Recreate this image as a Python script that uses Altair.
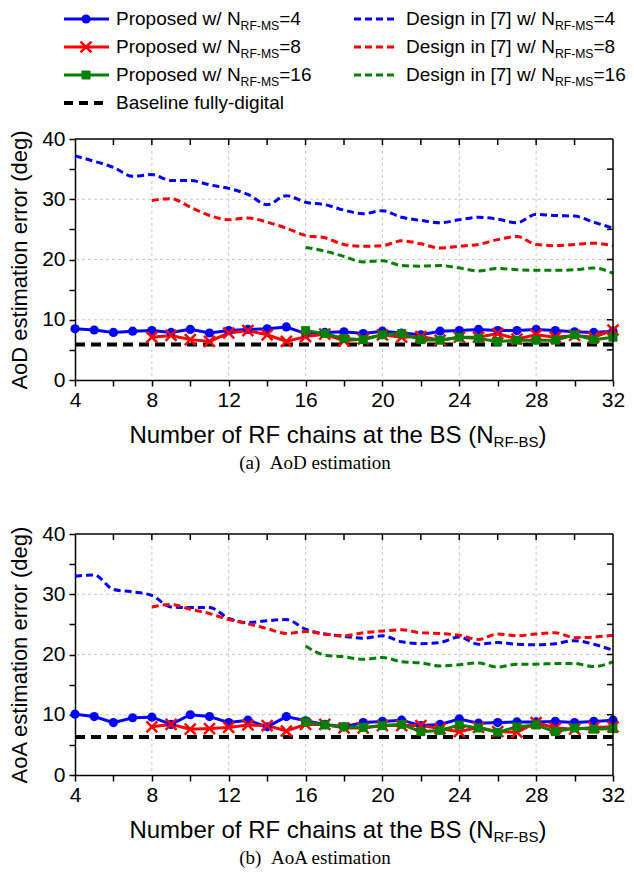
import altair as alt
import pandas as pd

FONT = "Liberation Sans"
SERIF = "Liberation Serif"
W, H = 538, 241

# ---------------- data ----------------
x_all = list(range(4, 33))
x_from8 = list(range(8, 33))
x_from16 = list(range(16, 33))

# (a) AoD estimation error (deg)
aod_prop4 = [8.5, 8.3, 7.9, 8.1, 8.2, 7.9, 8.4, 7.8, 8.2, 8.4, 8.5, 8.8, 7.7, 7.9, 8.0,
             7.7, 8.1, 7.8, 7.5, 8.1, 8.2, 8.4, 8.2, 8.2, 8.4, 8.2, 8.0, 7.9, 8.1]
aod_prop8 = [7.1, 7.4, 6.7, 6.4, 7.8, 8.2, 7.5, 6.4, 7.2, 7.6, 6.5, 6.8, 7.5, 7.1, 7.2,
             6.6, 7.1, 7.1, 7.7, 6.8, 7.5, 7.1, 7.4, 7.1, 8.3]
aod_prop16 = [8.2, 7.7, 6.9, 6.7, 7.5, 7.7, 6.7, 6.6, 7.1, 6.9, 6.4, 6.6, 6.6, 6.6, 7.5, 6.7, 7.1]
aod_des4 = [37.2, 36.3, 35.3, 33.8, 34.1, 33.1, 33.1, 32.4, 31.8, 30.8, 29.1, 30.6, 29.5, 29.1, 28.2,
            27.6, 28.1, 27.0, 26.5, 26.1, 26.6, 27.0, 26.7, 26.1, 27.5, 27.3, 27.2, 26.2, 25.2]
aod_des8 = [29.8, 30.1, 28.7, 27.3, 26.6, 26.9, 26.2, 25.2, 24.0, 23.6, 22.5, 22.2, 22.3, 23.1, 22.6,
            21.9, 22.2, 22.5, 23.3, 23.8, 22.5, 22.3, 22.5, 22.7, 22.3]
aod_des16 = [22.0, 21.4, 20.5, 19.6, 19.8, 19.0, 18.9, 19.0, 18.6, 18.1, 18.5, 18.3, 18.2, 18.2, 18.3, 18.6, 17.7]
aod_baseline = 5.9

# (b) AoA estimation error (deg)
aoa_prop4 = [10.1, 9.7, 8.7, 9.5, 9.6, 8.4, 10.0, 9.7, 8.7, 9.1, 8.0, 9.7, 9.0, 8.4, 8.0,
             8.7, 8.9, 9.1, 8.2, 8.4, 9.3, 8.6, 8.7, 8.8, 8.8, 8.9, 8.7, 8.9, 9.1]
aoa_prop8 = [8.0, 8.4, 7.6, 7.7, 7.9, 8.3, 8.2, 7.3, 8.4, 8.4, 7.8,
             7.8, 8.2, 8.2, 8.2, 7.7, 7.2, 7.9, 7.2, 7.1, 8.7, 7.8, 7.6, 7.9, 8.0]
aoa_prop16 = [8.8, 8.3, 8.0, 7.9, 8.2, 8.4, 7.2, 7.4, 8.3, 7.8, 7.1, 8.0, 8.3, 7.2, 7.8, 7.6, 7.7]
aoa_des4 = [33.0, 33.2, 30.8, 30.4, 29.8, 27.9, 27.8, 27.8, 26.0, 25.3, 25.6, 25.8, 24.2, 23.4, 23.0,
            22.7, 23.1, 22.1, 21.8, 22.0, 22.9, 21.7, 22.0, 21.7, 21.6, 21.8, 22.3, 21.7, 20.7]
aoa_des8 = [27.9, 28.3, 27.5, 26.8, 25.8, 25.1, 24.3, 23.5, 23.8, 23.4, 23.1,
            23.6, 23.9, 24.1, 23.6, 23.5, 23.2, 22.5, 23.4, 23.1, 23.4, 23.6, 22.8, 22.9, 23.2]
aoa_des16 = [21.4, 19.9, 19.6, 19.2, 19.5, 18.8, 18.6, 18.1, 18.3, 18.6, 17.9, 18.4, 18.4, 18.5, 18.5, 18.0, 18.8]
aoa_baseline = 6.3

series = ["N4", "N8", "N16"]
colors = ["#0000FF", "#FF0000", "#008000"]

x_grid = [8, 12, 16, 20, 24, 28]
y_grid = [10, 20, 30]
x_minor = list(range(6, 31, 2))
y_minor = list(range(5, 40, 5))

# legend
leg_col = [0, 0, 0, 0, 1, 1, 1]
leg_row = [0, 1, 2, 3, 0, 1, 2]
leg_kind = ["N4", "N8", "N16", "base", "des", "des", "des"]
leg_main = ["Proposed w/ N", "Proposed w/ N", "Proposed w/ N", "Baseline fully-digital",
            "Design in [7] w/ N", "Design in [7] w/ N", "Design in [7] w/ N"]
leg_sub = ["RF-MS", "RF-MS", "RF-MS", "", "RF-MS", "RF-MS", "RF-MS"]
leg_suffix = ["=4", "=8", "=16", "", "=4", "=8", "=16"]
leg_color = ["#0000FF", "#FF0000", "#008000", "#000000", "#0000FF", "#FF0000", "#008000"]

# ---------------- helpers ----------------
AW = {' ': 278, '(': 333, ')': 333, '-': 333, '/': 278, '=': 584, '[': 278, ']': 278,
      'A': 667, 'B': 667, 'D': 722, 'F': 611, 'M': 833, 'N': 722, 'P': 667, 'R': 722, 'S': 667,
      'a': 556, 'b': 556, 'c': 500, 'd': 556, 'e': 556, 'f': 278, 'g': 556, 'h': 556, 'i': 222,
      'l': 222, 'm': 833, 'n': 556, 'o': 556, 'p': 556, 'r': 333, 's': 500, 't': 278, 'u': 556,
      'w': 722, 'y': 500}


def tw(s, fs):
    return sum(AW.get(c, 556) for c in s) * fs / 1000.0


def long_df(xs_list, ys_list):
    rows = []
    for name, xs, ys in zip(series, xs_list, ys_list):
        for xv, yv in zip(xs, ys):
            rows.append({"x": xv, "v": yv, "s": name})
    return pd.DataFrame(rows)


X_ENC = alt.X("x:Q", scale=alt.Scale(domain=[4, 32], nice=False, zero=False),
              axis=alt.Axis(values=list(range(4, 33, 2)),
                            labelExpr="datum.value % 4 == 0 ? datum.label : ''",
                            title=None, grid=False, tickSize=6, tickWidth=1.5, tickColor="black",
                            domainColor="black", domainWidth=1.5, labelFontSize=21, labelFont=FONT,
                            labelColor="black", labelPadding=3, labelFlush=False))
COLOR = alt.Color("s:N", scale=alt.Scale(domain=series, range=colors), legend=None)


def text_layer(t, x, y, fs, align="left", font=FONT, dy=0):
    return alt.Chart(pd.DataFrame({"t": [t]})).mark_text(
        align=align, baseline="middle", font=font, fontSize=fs, color="black", dy=dy
    ).encode(x=alt.value(x), y=alt.value(y), text="t:N")


def panel(prop, des, base, ytitle, caption):
    Y_ENC = alt.Y("v:Q", scale=alt.Scale(domain=[0, 40], nice=False, zero=True),
                  axis=alt.Axis(values=list(range(0, 41, 5)),
                                labelExpr="datum.value % 10 == 0 ? datum.label : ''",
                                title=ytitle, titleFontSize=22, titleFont=FONT,
                                titleFontWeight="normal", titleColor="black", titlePadding=10,
                                grid=False, tickSize=6, tickWidth=1.5, tickColor="black",
                                domainColor="black", domainWidth=1.5, labelFontSize=21,
                                labelFont=FONT, labelColor="black", labelPadding=4,
                                labelFlush=False))
    pdf = long_df([x_all, x_from8, x_from16], prop)
    ddf = long_df([x_all, x_from8, x_from16], des)

    gx = alt.Chart(pd.DataFrame({"x": x_grid})).mark_rule(
        color="#c8c8c8", strokeDash=[3, 3], strokeWidth=1).encode(x=X_ENC)
    gy = alt.Chart(pd.DataFrame({"v": y_grid})).mark_rule(
        color="#c8c8c8", strokeDash=[3, 3], strokeWidth=1).encode(y=Y_ENC)

    dlines = alt.Chart(ddf).mark_line(strokeWidth=3, strokeDash=[7, 4], interpolate="monotone").encode(
        x=X_ENC, y=Y_ENC, color=COLOR, detail="s:N")
    bline = alt.Chart(pd.DataFrame({"v": [base]})).mark_rule(
        color="black", strokeWidth=4, strokeDash=[10, 6]).encode(y=Y_ENC)
    plines = alt.Chart(pdf).mark_line(strokeWidth=3).encode(
        x=X_ENC, y=Y_ENC, color=COLOR, detail="s:N")
    circ = alt.Chart(pdf).transform_filter("datum.s == 'N4'").mark_point(
        shape="circle", filled=True, size=85, opacity=1, color="#0000FF").encode(x=X_ENC, y=Y_ENC)
    crs = alt.Chart(pdf).transform_filter("datum.s == 'N8'").mark_point(
        shape="M-1,-1L1,1M-1,1L1,-1", filled=False, size=120, strokeWidth=2.5, opacity=1,
        color="#FF0000").encode(x=X_ENC, y=Y_ENC)
    sq = alt.Chart(pdf).transform_filter("datum.s == 'N16'").mark_point(
        shape="square", filled=True, size=80, opacity=1, color="#008000").encode(x=X_ENC, y=Y_ENC)

    top_ticks = alt.Chart(pd.DataFrame({"x": x_minor})).mark_rule(
        color="black", strokeWidth=1.5).encode(x=X_ENC, y=alt.value(0), y2=alt.value(6))
    right_ticks = alt.Chart(pd.DataFrame({"v": y_minor})).mark_rule(
        color="black", strokeWidth=1.5).encode(y=Y_ENC, x=alt.value(W - 6), x2=alt.value(W))
    top_edge = alt.Chart(pd.DataFrame({"t": [0]})).mark_rule(color="black", strokeWidth=1.5).encode(
        x=alt.value(0), x2=alt.value(W), y=alt.value(0))
    right_edge = alt.Chart(pd.DataFrame({"t": [0]})).mark_rule(color="black", strokeWidth=1.5).encode(
        x=alt.value(W), y=alt.value(0), y2=alt.value(H))

    # x-axis title with subscript
    m, sbs, cl = "Number of RF chains at the BS (N", "RF-BS", ")"
    fs_t, fs_s = 24, 15
    total = tw(m, fs_t) + tw(sbs, fs_s) + tw(cl, fs_t)
    x0 = W / 2 - total / 2 - 6
    ty = 297
    t1 = text_layer(m, x0, ty, fs_t)
    t2 = text_layer(sbs, x0 + tw(m, fs_t), ty, fs_s, dy=6)
    t3 = text_layer(cl, x0 + tw(m, fs_t) + tw(sbs, fs_s), ty, fs_t)
    cap = text_layer(caption, 240, 324, 19, align="center", font=SERIF)

    return alt.layer(gx, gy, dlines, bline, plines, circ, crs, sq, top_ticks, right_ticks,
                     top_edge, right_edge, t1, t2, t3, cap)


# ---------------- legend (drawn above the top panel) ----------------
ldf = pd.DataFrame({"col": leg_col, "row": leg_row, "kind": leg_kind, "main": leg_main,
                    "sub": leg_sub, "suffix": leg_suffix, "c": leg_color})
LX = alt.X("col:Q", scale=alt.Scale(domain=[0, 1], range=[-11, 279]), axis=None)
LY = alt.Y("row:Q", scale=alt.Scale(domain=[0, 3], range=[-120, -36]), axis=None)
LC = alt.Color("c:N", scale=None)
lbase = alt.Chart(ldf)
FS_L, FS_LS = 19, 12.2

l_solid = lbase.transform_filter("datum.col == 0 && datum.kind != 'base'").mark_rule(
    strokeWidth=3, x2Offset=45).encode(x=LX, x2=alt.X2("col:Q"), y=LY, color=LC)
l_des = lbase.transform_filter("datum.kind == 'des'").mark_rule(
    strokeWidth=3, strokeDash=[7, 4], x2Offset=43).encode(x=LX, x2=alt.X2("col:Q"), y=LY, color=LC)
l_base = lbase.transform_filter("datum.kind == 'base'").mark_rule(
    strokeWidth=4, strokeDash=[9, 6], x2Offset=40).encode(x=LX, x2=alt.X2("col:Q"), y=LY, color=LC)
l_circ = lbase.transform_filter("datum.kind == 'N4'").mark_point(
    shape="circle", filled=True, size=85, opacity=1, xOffset=22, color="#0000FF").encode(x=LX, y=LY)
l_crs = lbase.transform_filter("datum.kind == 'N8'").mark_point(
    shape="M-1,-1L1,1M-1,1L1,-1", filled=False, size=120, strokeWidth=2.5, opacity=1, xOffset=22,
    color="#FF0000").encode(x=LX, y=LY)
l_sq = lbase.transform_filter("datum.kind == 'N16'").mark_point(
    shape="square", filled=True, size=80, opacity=1, xOffset=22, color="#008000").encode(x=LX, y=LY)
l_main = lbase.mark_text(align="left", baseline="middle", font=FONT, fontSize=FS_L, dx=52,
                         color="black").encode(x=LX, y=LY, text="main:N")
sub_layers = []
for c in [0, 1]:
    mtxt = leg_main[0] if c == 0 else leg_main[4]
    dx_sub = 52 + tw(mtxt, FS_L)
    dx_suf = dx_sub + tw("RF-MS", FS_LS)
    sub_layers.append(lbase.transform_filter(f"datum.col == {c} && datum.kind != 'base'").mark_text(
        align="left", baseline="middle", font=FONT, fontSize=FS_LS, dx=dx_sub, dy=7,
        color="black").encode(x=LX, y=LY, text="sub:N"))
    sub_layers.append(lbase.transform_filter(f"datum.col == {c} && datum.kind != 'base'").mark_text(
        align="left", baseline="middle", font=FONT, fontSize=FS_L, dx=dx_suf,
        color="black").encode(x=LX, y=LY, text="suffix:N"))

legend = alt.layer(l_solid, l_des, l_base, l_circ, l_crs, l_sq, l_main, *sub_layers)

panel_a = panel([aod_prop4, aod_prop8, aod_prop16], [aod_des4, aod_des8, aod_des16], aod_baseline,
                "AoD estimation error (deg)", "(a)\u00a0\u00a0AoD estimation")
panel_b = panel([aoa_prop4, aoa_prop8, aoa_prop16], [aoa_des4, aoa_des8, aoa_des16], aoa_baseline,
                "AoA estimation error (deg)", "(b)\u00a0\u00a0AoA estimation")

top = alt.layer(panel_a, legend).resolve_scale(x="independent", y="independent").properties(
    width=W, height=H)
bottom = panel_b.properties(width=W, height=H)

chart = alt.vconcat(top, bottom, spacing=154, bounds="flush").properties(
    padding={"left": 0, "top": 2, "right": 0, "bottom": 0}
).configure_view(strokeWidth=0, stroke=None)

chart.save("out.html", embed_options={"renderer": "svg", "actions": False})
